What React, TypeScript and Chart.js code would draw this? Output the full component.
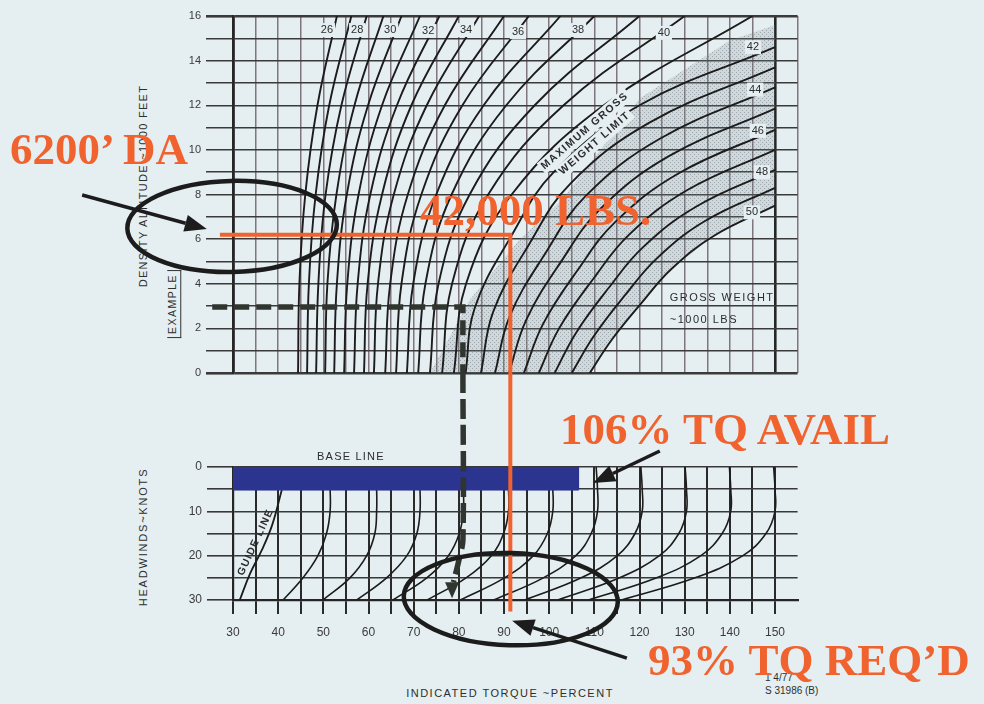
import React, { useEffect, useRef } from 'react';
import { Chart, registerables } from 'chart.js';

Chart.register(...registerables);

// ---------------- data ----------------
// upper panel: density altitude (1000 ft) vs indicated torque (%)
const densityAltitudeTicks = [0, 2, 4, 6, 8, 10, 12, 14, 16];
const torqueTicks = [30, 40, 50, 60, 70, 80, 90, 100, 110, 120, 130, 140, 150];
const headwindTicks = [0, 10, 20, 30];

// gross weight curves ~1000 lbs: [torque %, density altitude]
const gw26 = [[44.4, 0], [44.7, 4], [46.0, 8], [48.7, 12], [53.0, 16]];
const gw27 = [[46.4, 0], [46.8, 4], [48.3, 8], [51.3, 12], [56.2, 16]];
const gw28 = [[48.4, 0], [48.9, 4], [50.5, 8], [54.0, 12], [59.6, 16]];
const gw29 = [[50.4, 0], [50.9, 4], [52.9, 8], [56.9, 12], [63.3, 16]];
const gw30 = [[52.4, 0], [53.0, 4], [55.2, 8], [59.9, 12], [67.3, 16]];
const gw31 = [[54.6, 0], [55.3, 4], [57.8, 8], [63.0, 12], [71.4, 16]];
const gw32 = [[56.8, 0], [57.6, 4], [60.4, 8], [66.3, 12], [75.7, 16]];
const gw33 = [[59.0, 0], [59.8, 4], [63.0, 8], [69.5, 12], [80.0, 16]];
const gw34 = [[61.2, 0], [62.1, 4], [65.6, 8], [72.9, 12], [84.5, 16]];
const gw35 = [[63.7, 0], [64.8, 4], [68.7, 8], [76.9, 12], [90.0, 16]];
const gw36 = [[66.1, 0], [67.3, 4], [71.7, 8], [80.8, 12], [95.5, 16]];
const gw37 = [[68.5, 0], [69.9, 4], [75.0, 8], [85.5, 12], [102.5, 16]];
const gw38 = [[71.0, 0], [72.6, 4], [78.4, 8], [90.5, 12], [110.0, 16]];
const gw39 = [[73.6, 0], [75.5, 4], [82.4, 8], [96.8, 12], [120.0, 16]];
const gw40 = [[76.3, 0], [78.5, 4], [86.5, 8], [103.2, 12], [130.0, 16]];
const gw41 = [[78.9, 0], [81.6, 4], [91.7, 8], [112.1, 12], [145.0, 16]];
const gw42 = [[81.5, 0], [83.5, 2.9], [91.5, 6.1], [101.0, 9.0], [120.0, 12.0], [150, 14.6]];
const gw43 = [[84.9, 0], [87.6, 2.74], [95.5, 5.75], [104.7, 8.49], [122.3, 11.23], [150, 13.7]];
const gw44 = [[88.0, 0], [91.3, 2.56], [99.2, 5.38], [108.1, 7.94], [124.5, 10.5], [150, 12.8]];
const gw45 = [[91.1, 0], [94.9, 2.37], [102.6, 4.98], [111.3, 7.35], [126.5, 9.72], [150, 11.85]];
const gw46 = [[94.4, 0], [98.6, 2.18], [106.2, 4.58], [114.6, 6.76], [128.6, 8.94], [150, 10.9]];
const gw47 = [[97.7, 0], [102.2, 2.0], [109.7, 4.2], [117.7, 6.2], [130.6, 8.2], [150, 10.0]];
const gw48 = [[101.2, 0], [106.0, 1.82], [113.2, 3.82], [120.8, 5.64], [132.6, 7.46], [150, 9.1]];
const gw49 = [[105.0, 0], [109.9, 1.66], [116.8, 3.49], [123.9, 5.15], [134.5, 6.81], [150, 8.3]];
const gw50 = [[109.0, 0], [113.9, 1.5], [120.5, 3.15], [127.0, 4.65], [136.5, 6.15], [150, 7.5]];
const grossWeightCurves = [gw26, gw27, gw28, gw29, gw30, gw31, gw32, gw33, gw34, gw35, gw36, gw37, gw38,
  gw39, gw40, gw41, gw42, gw43, gw44, gw45, gw46, gw47, gw48, gw49, gw50];

const curveLabels = ['26', '28', '30', '32', '34', '36', '38', '40', '42', '44', '46', '48', '50'];
const curveLabelAt = [[50.8, 15.37], [57.5, 15.37], [64.8, 15.37], [73.2, 15.33], [81.6, 15.37], [93.1, 15.28],
  [106.4, 15.37], [125.4, 15.24], [145.1, 14.6], [145.6, 12.7], [146.2, 10.85], [147.1, 9.0], [144.9, 7.2]];

// edge of the "maximum gross weight limit" shaded region
const maxWeightLimitEdge = [[73.6, 0], [82.5, 3.3], [93.5, 6.0], [103.0, 7.8], [120.0, 12.3], [140.0, 14.9], [150, 15.6]];

// lower panel: headwind (knots) correction curves: [torque %, knots]
const guideLine = [[40.8, 5.2], [38.7, 13], [36.4, 18.7], [33.8, 24], [31.5, 30]];
const hw51 = [[51.3, 0], [51.5, 5], [51.5, 10], [50.7, 15], [48.8, 20], [45.5, 25], [41.1, 30]];
const hw62 = [[61.6, 0], [61.8, 5], [61.8, 10], [61.4, 15], [59.6, 20], [55.9, 25], [49.9, 30]];
const hw71 = [[71.2, 0], [71.4, 5], [71.4, 10], [70.7, 15], [68.5, 20], [64.0, 25], [57.4, 30]];
const hw81 = [[80.8, 0], [81.0, 5], [81.0, 10], [80.1, 15], [77.7, 20], [72.9, 25], [65.4, 30]];
const hw91 = [[90.8, 0], [91.0, 5], [91.0, 10], [89.9, 15], [87.2, 20], [81.6, 25], [73.0, 30]];
const hw101 = [[100.5, 0], [100.8, 5], [100.8, 10], [99.6, 15], [96.5, 20], [90.1, 25], [80.3, 30]];
const hw111 = [[110.4, 0], [110.7, 5], [110.7, 10], [109.3, 15], [105.9, 20], [98.7, 25], [87.7, 30]];
const hw121 = [[120.3, 0], [120.6, 5], [120.6, 10], [119.0, 15], [115.1, 20], [107.1, 25], [94.6, 30]];
const hw130 = [[130.1, 0], [130.4, 5], [130.4, 10], [128.7, 15], [124.4, 20], [115.6, 25], [101.9, 30]];
const hw140 = [[139.9, 0], [140.2, 5], [140.2, 10], [138.3, 15], [133.6, 20], [123.8, 25], [108.7, 30]];
const hw150 = [[149.7, 0], [150, 5], [150, 10], [148.0, 15], [142.9, 20], [132.3, 25], [116.0, 30]];
const headwindCurves = [hw51, hw62, hw71, hw81, hw91, hw101, hw111, hw121, hw130, hw140, hw150];

const baseLineBar = [[30, 0], [106.5, 0], [106.5, 5.2], [30, 5.2]];

// worked solution (orange) and printed example (dashed)
const solutionUpper = [[27.1, 6.2], [91.4, 6.2], [91.4, 0]];
const solutionLower = [[91.4, -21.2], [91.4, 32.6]];
const exampleUpper = [[25.4, 2.96], [80.9, 2.96], [80.9, 0]];
const exampleLower = [[80.9, -21.2], [80.9, 16.5], [79.9, 21.5], [78.8, 26.0]];
const exampleArrowTip = [78.5, 29.6];

// hand-drawn call-outs, in axis units
const ellipseDA = [29.8, 6.57, 23.2, 2.04];
const arrowDA = [[-3.4, 7.98], [24.2, 6.45]];
const ellipseTQ = [91.5, 29.8, 23.7, 10.4];
const arrowAvail = [[124.5, -3.6], [109.7, 3.6]];
const arrowReqd = [[117.2, 43.1], [91.8, 34.7]];

// ---------------- styling ----------------
const W = 984;
const H = 704;
const BG = '#e5eef1';
const ORANGE = '#f0622e';
const INK = '#1c1c1c';
const DASH_INK = '#30352f';
const SANS = '"Liberation Sans", Arial, sans-serif';
const PLOT_LEFT = 233;
const PLOT_RIGHT = 797.6;
const X_MIN = 30;
const X_MAX = 155;

const pts = (a: number[][]) => a.map(([x, y]) => ({ x, y }));

function drawArrow(ctx: CanvasRenderingContext2D, x1: number, y1: number, x2: number, y2: number, headLen = 22, headW = 17) {
  const a = Math.atan2(y2 - y1, x2 - x1);
  const bx = x2 - headLen * Math.cos(a);
  const by = y2 - headLen * Math.sin(a);
  ctx.beginPath();
  ctx.moveTo(x1, y1);
  ctx.lineTo(bx, by);
  ctx.stroke();
  ctx.beginPath();
  ctx.moveTo(x2, y2);
  ctx.lineTo(bx + (headW / 2) * Math.sin(a), by - (headW / 2) * Math.cos(a));
  ctx.lineTo(bx - (headW / 2) * Math.sin(a), by + (headW / 2) * Math.cos(a));
  ctx.closePath();
  ctx.fill();
}

function patchText(ctx: CanvasRenderingContext2D, text: string, x: number, y: number, angle: number, font: string, spacing: string, patch: boolean) {
  ctx.save();
  ctx.translate(x, y);
  ctx.rotate((angle * Math.PI) / 180);
  ctx.font = font;
  (ctx as any).letterSpacing = spacing;
  ctx.textAlign = 'center';
  ctx.textBaseline = 'middle';
  const w = ctx.measureText(text).width;
  if (patch) {
    ctx.fillStyle = BG;
    ctx.fillRect(-w / 2 - 2, -7, w + 4, 14);
  }
  ctx.fillStyle = '#2c2c2c';
  ctx.fillText(text, 0, 0);
  ctx.restore();
}

function stipple(): CanvasPattern | string {
  const c = document.createElement('canvas');
  c.width = 4;
  c.height = 4;
  const g = c.getContext('2d');
  if (!g) return 'rgba(120,130,138,0.22)';
  g.fillStyle = 'rgba(130,140,146,0.22)';
  g.fillRect(0, 0, 4, 4);
  g.fillStyle = 'rgba(70,78,84,0.35)';
  g.fillRect(0, 0, 1, 1);
  g.fillRect(2, 2, 1, 1);
  const p = g.createPattern(c, 'repeat');
  return p || 'rgba(120,130,138,0.22)';
}

const upperAnnotations = {
  id: 'upperAnnotations',
  afterDatasetsDraw(chart: any) {
    const { ctx } = chart;
    const x = chart.scales.x;
    const y = chart.scales.y;
    const px = (v: number) => x.getPixelForValue(v);
    const py = (v: number) => y.getPixelForValue(v);
    ctx.save();
    curveLabels.forEach((t, i) => {
      const [tv, dv] = curveLabelAt[i];
      patchText(ctx, t, px(tv), py(dv), 0, `11px ${SANS}`, '0px', true);
    });
    patchText(ctx, 'MAXIMUM GROSS', px(107.9), py(10.85), -41, `bold 10.5px ${SANS}`, '1.5px', true);
    patchText(ctx, 'WEIGHT LIMIT', px(110.1), py(10.3), -41, `bold 10.5px ${SANS}`, '1.5px', true);
    ctx.font = `11px ${SANS}`;
    (ctx as any).letterSpacing = '1.5px';
    ctx.fillStyle = '#2c2c2c';
    ctx.textAlign = 'left';
    ctx.textBaseline = 'middle';
    ctx.fillText('GROSS WEIGHT', px(126.7), py(3.36));
    ctx.fillText('~1000 LBS', px(126.7), py(2.38));
    (ctx as any).letterSpacing = '0px';

    ctx.strokeStyle = INK;
    ctx.fillStyle = INK;
    ctx.lineWidth = 4.5;
    const [ecx, ecy, erx, ery] = ellipseDA;
    ctx.beginPath();
    ctx.ellipse(px(ecx), py(ecy), Math.abs(px(ecx + erx) - px(ecx)), Math.abs(py(ecy + ery) - py(ecy)), -0.02, 0, Math.PI * 2);
    ctx.stroke();
    ctx.lineWidth = 3.5;
    drawArrow(ctx, px(arrowDA[0][0]), py(arrowDA[0][1]), px(arrowDA[1][0]), py(arrowDA[1][1]));
    ctx.restore();
  },
};

const lowerAnnotations = {
  id: 'lowerAnnotations',
  afterDatasetsDraw(chart: any) {
    const { ctx } = chart;
    const x = chart.scales.x;
    const y = chart.scales.y;
    const px = (v: number) => x.getPixelForValue(v);
    const py = (v: number) => y.getPixelForValue(v);
    ctx.save();
    patchText(ctx, 'BASE LINE', px(56.1), py(-2.3), 0, `11px ${SANS}`, '1.2px', false);
    patchText(ctx, 'GUIDE LINE', px(35.0), py(17.0), -65, `bold 10.5px ${SANS}`, '1.2px', false);

    // example arrow head
    ctx.fillStyle = DASH_INK;
    const tx = px(exampleArrowTip[0]);
    const ty = py(exampleArrowTip[1]);
    ctx.beginPath();
    ctx.moveTo(tx, ty);
    ctx.lineTo(tx - 7, ty - 16);
    ctx.lineTo(tx + 7, ty - 16);
    ctx.closePath();
    ctx.fill();

    ctx.strokeStyle = INK;
    ctx.fillStyle = INK;
    ctx.lineWidth = 4.5;
    const [ecx, ecy, erx, ery] = ellipseTQ;
    ctx.beginPath();
    ctx.ellipse(px(ecx), py(ecy), Math.abs(px(ecx + erx) - px(ecx)), Math.abs(py(ecy + ery) - py(ecy)), 0.03, 0, Math.PI * 2);
    ctx.stroke();
    ctx.lineWidth = 3.5;
    drawArrow(ctx, px(arrowAvail[0][0]), py(arrowAvail[0][1]), px(arrowAvail[1][0]), py(arrowAvail[1][1]));
    drawArrow(ctx, px(arrowReqd[0][0]), py(arrowReqd[0][1]), px(arrowReqd[1][0]), py(arrowReqd[1][1]));
    ctx.restore();
  },
};

function upperConfig(): any {
  const curveSets = grossWeightCurves.map((c) => ({
    data: pts(c),
    borderColor: INK,
    borderWidth: 1.9,
    pointRadius: 0,
    tension: 0.4,
    fill: false,
    order: 5,
  }));
  const shade = [...maxWeightLimitEdge, ...gw50.slice().reverse()];
  return {
    type: 'line',
    data: {
      datasets: [
        {
          data: pts(shade), fill: 'shape', backgroundColor: stipple(),
          borderColor: 'transparent', borderWidth: 0, pointRadius: 0, tension: 0, order: 10,
        },
        ...curveSets,
        {
          data: pts(exampleUpper), borderColor: DASH_INK, borderWidth: 5.5, borderDash: [15, 7],
          pointRadius: 0, tension: 0, fill: false, clip: false, order: 2,
        },
        {
          data: pts(solutionUpper), borderColor: ORANGE, borderWidth: 4,
          pointRadius: 0, tension: 0, fill: false, clip: false, order: 1,
        },
      ],
    },
    options: {
      responsive: false,
      animation: false,
      devicePixelRatio: 1,
      events: [],
      layout: { padding: { top: 16, left: 0, right: W - PLOT_RIGHT, bottom: H - 373 } },
      plugins: { legend: { display: false }, tooltip: { enabled: false } },
      scales: {
        x: {
          type: 'linear', min: X_MIN, max: X_MAX,
          afterFit: (s: any) => { s.height = 0; s.paddingLeft = 0; s.paddingRight = 0; },
          ticks: { display: false, stepSize: 5 },
          grid: {
            drawTicks: false,
            color: (c: any) => (c.tick && (c.tick.value === 150 || c.tick.value === 30) ? '#262626' : 'rgba(112,96,104,0.85)'),
            lineWidth: (c: any) => (c.tick && (c.tick.value === 150 || c.tick.value === 30) ? 2.6 : 1.5),
          },
          border: { display: false },
        },
        y: {
          type: 'linear', min: 0, max: 16,
          afterFit: (s: any) => { s.width = PLOT_LEFT; s.paddingTop = 0; s.paddingBottom = 0; },
          ticks: {
            stepSize: 1, autoSkip: false, padding: 5, color: '#3b3b3b',
            font: { family: SANS, size: 11 },
            callback: (v: number) => (densityAltitudeTicks.includes(v) ? String(v) : ''),
          },
          grid: {
            tickLength: 27,
            color: '#3a3a3a',
            lineWidth: (c: any) => (c.tick && (c.tick.value === 0 || c.tick.value === 16) ? 2.6 : 1.5),
          },
          border: { display: true, width: 2.6, color: '#262626' },
        },
      },
    },
    plugins: [upperAnnotations],
  };
}

function lowerConfig(): any {
  const curveSets = headwindCurves.map((c) => ({
    data: pts(c), borderColor: INK, borderWidth: 1.6, pointRadius: 0, tension: 0.4, fill: false, order: 5,
  }));
  return {
    type: 'line',
    data: {
      datasets: [
        {
          data: pts(baseLineBar), fill: 'shape', backgroundColor: '#2b3590', borderColor: '#2b3590',
          borderWidth: 1, pointRadius: 0, tension: 0, order: 3,
        },
        { data: pts(guideLine), borderColor: INK, borderWidth: 1.8, pointRadius: 0, tension: 0.4, fill: false, order: 5 },
        ...curveSets,
        {
          data: pts(exampleLower), borderColor: DASH_INK, borderWidth: 5.5, borderDash: [20, 6],
          pointRadius: 0, tension: 0.3, fill: false, clip: false, order: 2,
        },
        {
          data: pts(solutionLower), borderColor: ORANGE, borderWidth: 4,
          pointRadius: 0, tension: 0, fill: false, clip: false, order: 1,
        },
      ],
    },
    options: {
      responsive: false,
      animation: false,
      devicePixelRatio: 1,
      events: [],
      layout: { padding: { top: 467, left: 0, right: W - PLOT_RIGHT, bottom: H - 600 - 44 } },
      plugins: { legend: { display: false }, tooltip: { enabled: false } },
      scales: {
        x: {
          type: 'linear', min: X_MIN, max: X_MAX,
          afterFit: (s: any) => { s.height = 44; s.paddingLeft = 0; s.paddingRight = 0; },
          ticks: {
            stepSize: 5, autoSkip: false, maxRotation: 0, padding: 11, color: '#3b3b3b',
            font: { family: SANS, size: 12 },
            callback: (v: number) => (torqueTicks.includes(v) ? String(v) : ''),
          },
          grid: {
            tickLength: 14,
            color: (c: any) => (c.tick && c.tick.value > 150 ? 'rgba(0,0,0,0)' : '#2a2a2a'),
            lineWidth: 2,
          },
          border: { display: true, width: 2.2, color: '#262626' },
        },
        y: {
          type: 'linear', min: 0, max: 30, reverse: true,
          afterFit: (s: any) => { s.width = PLOT_LEFT; s.paddingTop = 0; s.paddingBottom = 0; },
          ticks: {
            stepSize: 5, autoSkip: false, padding: 5, color: '#3b3b3b',
            font: { family: SANS, size: 12 },
            callback: (v: number) => (headwindTicks.includes(v) ? String(v) : ''),
          },
          grid: { tickLength: 26, color: '#383838', lineWidth: 1.6 },
          border: { display: true, width: 2.2, color: '#262626' },
        },
      },
    },
    plugins: [lowerAnnotations],
  };
}

function Txt(props: { x: number; y: number; angle?: number; size?: number; spacing?: number; weight?: number; children: React.ReactNode }) {
  const { x, y, angle = 0, size = 11, spacing = 1.4, weight = 400, children } = props;
  return (
    <div
      style={{
        position: 'absolute', left: x, top: y, transform: `translate(-50%, -50%) rotate(${angle}deg)`,
        whiteSpace: 'nowrap', fontSize: size, letterSpacing: spacing, fontWeight: weight, color: '#2e2e2e',
        lineHeight: 1, fontFamily: SANS,
      }}
    >
      {children}
    </div>
  );
}

function Callout(props: { x: number; y: number; children: React.ReactNode }) {
  return (
    <div
      style={{
        position: 'absolute', left: props.x, top: props.y, whiteSpace: 'nowrap', color: ORANGE,
        fontFamily: '"Liberation Serif", "Times New Roman", serif', fontWeight: 700, fontSize: 45, lineHeight: '45px',
      }}
    >
      {props.children}
    </div>
  );
}

export default function App() {
  const upperRef = useRef<HTMLCanvasElement>(null);
  const lowerRef = useRef<HTMLCanvasElement>(null);
  useEffect(() => {
    const upper = new Chart(upperRef.current as HTMLCanvasElement, upperConfig());
    const lower = new Chart(lowerRef.current as HTMLCanvasElement, lowerConfig());
    return () => {
      upper.destroy();
      lower.destroy();
    };
  }, []);
  return (
    <div style={{ position: 'fixed', left: 0, top: 0, width: W, height: H, background: BG, overflow: 'hidden' }}>
      <Txt x={143} y={186} angle={-90} spacing={1.3}>DENSITY ALTITUDE ~1000 FEET</Txt>
      <Txt x={143} y={537} angle={-90} spacing={1.8}>HEADWINDS~KNOTS</Txt>
      <Txt x={510} y={693} spacing={1.5}>INDICATED TORQUE ~PERCENT</Txt>
      <div style={{ position: 'absolute', left: 174, top: 304, transform: 'translate(-50%, -50%) rotate(-90deg)', whiteSpace: 'nowrap',
        fontSize: 10.5, letterSpacing: 1.5, color: '#2e2e2e', fontFamily: SANS, lineHeight: 1, padding: '0 3px 2px 3px',
        borderBottom: '1.5px solid #333', borderLeft: '1.5px solid #333', borderRight: '1.5px solid #333' }}>EXAMPLE</div>
      <div style={{ position: 'absolute', left: 765, top: 671, fontSize: 10, fontFamily: SANS, color: '#2e2e2e', lineHeight: '13px' }}>
        1 4/77<br />S 31986 (B)
      </div>
      <canvas ref={upperRef} width={W} height={H} style={{ position: 'absolute', left: 0, top: 0 }} />
      <canvas ref={lowerRef} width={W} height={H} style={{ position: 'absolute', left: 0, top: 0 }} />
      <Callout x={10} y={127}>6200’ DA</Callout>
      <Callout x={420} y={188}>42,000 LBS.</Callout>
      <Callout x={560} y={407}>106% TQ AVAIL</Callout>
      <Callout x={648} y={638}>93% TQ REQ’D</Callout>
    </div>
  );
}
